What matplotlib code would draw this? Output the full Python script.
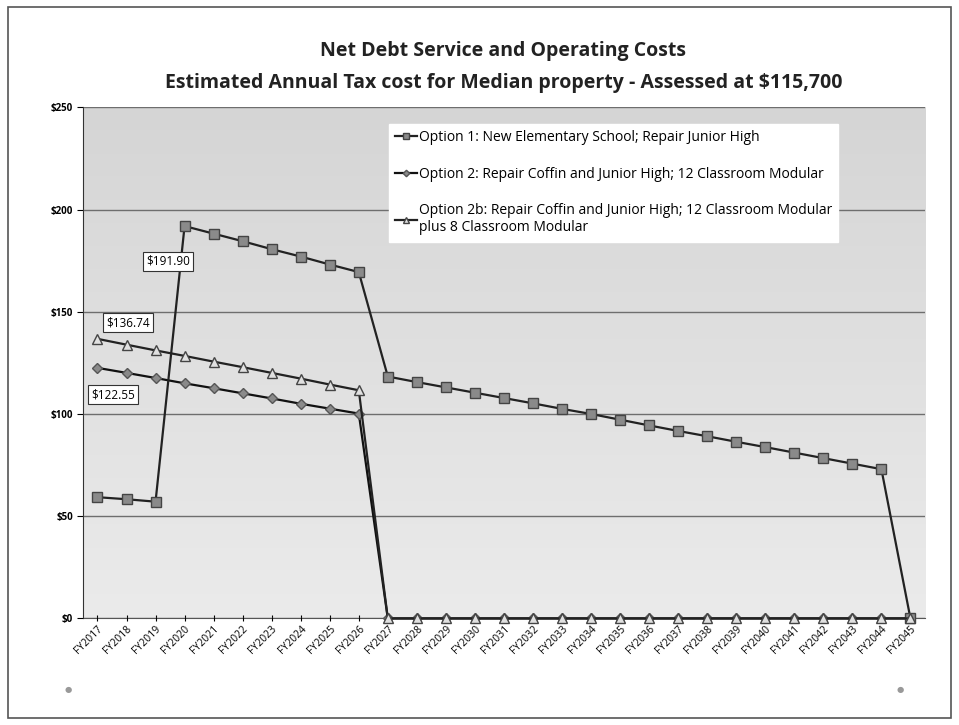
import matplotlib
matplotlib.use("Agg")
import matplotlib.pyplot as plt
import numpy as np
from matplotlib.patches import Rectangle

years = [f"FY{y}" for y in range(2017, 2046)]

option1 = [59.3, 58.3, 57.1, 191.90, 188.2, 184.5, 180.6, 177.0, 173.1, 169.4,
           118.3, 115.6, 113.0, 110.4, 107.8, 105.2, 102.5, 100.0, 97.2, 94.4,
           91.7, 89.1, 86.4, 83.8, 81.1, 78.4, 75.7, 73.0, 0.0]
option2 = [122.55, 120.1, 117.6, 115.0, 112.6, 110.1, 107.6, 105.0, 102.6, 100.2] + [0.0] * 19
option2b = [136.74, 133.9, 131.1, 128.4, 125.6, 122.9, 120.1, 117.3, 114.4, 111.6] + [0.0] * 19

labels = ["Option 1: New Elementary School; Repair Junior High",
          "Option 2: Repair Coffin and Junior High; 12 Classroom Modular",
          "Option 2b: Repair Coffin and Junior High; 12 Classroom Modular\nplus 8 Classroom Modular"]

plt.rcParams['font.family'] = ['Open Sans', 'DejaVu Sans']

fig = plt.figure(figsize=(9.59, 7.25), dpi=100)
fig.patch.set_facecolor('white')

# outer frame
fig.patches.append(Rectangle((0.008, 0.01), 0.984, 0.98, transform=fig.transFigure,
                             fill=False, edgecolor='#555555', linewidth=1.2))

ax = fig.add_axes([0.0865, 0.147, 0.878, 0.705])
x = np.arange(len(years))

# gradient background
grad = np.linspace(0, 1, 256).reshape(-1, 1)
ax.imshow(grad, extent=(-0.5, len(years) - 0.5, 0, 250), aspect='auto',
          cmap=matplotlib.colors.LinearSegmentedColormap.from_list('bg', ['#ebebeb', '#d5d5d5']),
          origin='lower', zorder=0)

ax.set_xlim(-0.5, len(years) - 0.5)
ax.set_ylim(0, 250)
ax.set_yticks([0, 50, 100, 150, 200, 250])
ax.set_yticklabels(['$0', '$50', '$100', '$150', '$200', '$250'], fontsize=7, fontweight='bold')
ax.yaxis.grid(True, color='#6e6e6e', linewidth=1.0, zorder=1)
ax.set_axisbelow(False)
ax.set_xticks(x)
ax.set_xticklabels(years, rotation=45, ha='right', rotation_mode='anchor', fontsize=7.5)
ax.tick_params(axis='x', length=4, direction='inout', pad=2)
ax.tick_params(axis='y', length=4, direction='out', pad=3)
for s in ['top', 'right']:
    ax.spines[s].set_visible(False)
ax.spines['left'].set_color('#333333')
ax.spines['bottom'].set_color('#555555')

l1, = ax.plot(x, option1, color='#222222', linewidth=1.6, marker='s', markersize=6.5,
              markerfacecolor='#8a8a8a', markeredgecolor='#444444', zorder=4, clip_on=False)
l2, = ax.plot(x, option2, color='#111111', linewidth=1.6, marker='D', markersize=5.5,
              markerfacecolor='#8a8a8a', markeredgecolor='#555555', zorder=3, clip_on=False)
l3, = ax.plot(x, option2b, color='#222222', linewidth=1.6, marker='^', markersize=7.5,
              markerfacecolor='#e0e0e0', markeredgecolor='#444444', zorder=5, clip_on=False)

box = dict(boxstyle='square,pad=0.25', facecolor='white', edgecolor='#333333', linewidth=0.8)
ax.annotate(f"${option1[3]:.2f}", (x[3], option1[3]), xytext=(-12, -28),
            textcoords='offset points', ha='center', fontsize=8.5, bbox=box, zorder=6)
ax.annotate(f"${option2b[0]:.2f}", (x[0], option2b[0]), xytext=(22, 9),
            textcoords='offset points', ha='center', fontsize=8.5, bbox=box, zorder=6)
ax.annotate(f"${option2[0]:.2f}", (x[0], option2[0]), xytext=(11, -22),
            textcoords='offset points', ha='center', fontsize=8.5, bbox=box, zorder=6)

leg = ax.legend([l1, l2, l3], labels, loc='upper left', bbox_to_anchor=(0.355, 0.981),
                fontsize=10, frameon=True, fancybox=False, framealpha=1.0,
                edgecolor='white', facecolor='white', handlelength=1.6,
                handletextpad=0.1, labelspacing=1.55, borderpad=0.45, markerscale=0.6)
leg.set_zorder(7)

fig.text(0.525, 0.930, "Net Debt Service and Operating Costs", ha='center', va='center',
         fontsize=14, fontweight='bold', color='#222222')
fig.text(0.525, 0.886, "Estimated Annual Tax cost for Median property - Assessed at $115,700",
         ha='center', va='center', fontsize=14, fontweight='bold', color='#222222')

# small corner dots
fig.text(0.071, 0.048, "●", ha='center', va='center', fontsize=6, color='#999999')
fig.text(0.939, 0.048, "●", ha='center', va='center', fontsize=6, color='#999999')

fig.savefig("out.png", dpi=100)
